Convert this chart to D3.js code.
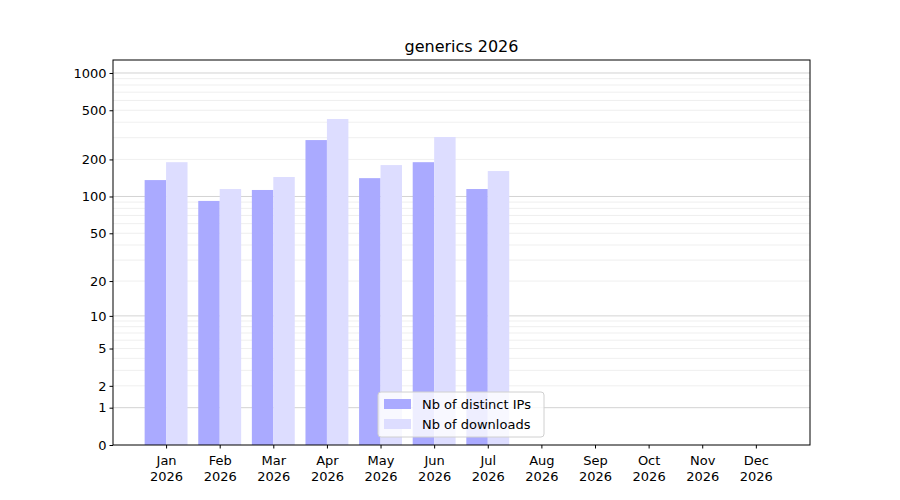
<!DOCTYPE html>
<html><head><meta charset="utf-8">
<script src="https://cdn.jsdelivr.net/npm/d3@7"></script>
<style>body{margin:0;background:#fff}text{font-family:"DejaVu Sans",sans-serif}</style>
</head><body><div class="canvas"></div>
<script>
const months = ['Jan','Feb','Mar','Apr','May','Jun','Jul','Aug','Sep','Oct','Nov','Dec'];
const year = '2026';
const distinctIPs = [136, 92, 113, 287, 141, 190, 115];
const downloads = [190, 115, 144, 425, 180, 304, 161];
const tickValues = [0, 1, 2, 5, 10, 20, 50, 100, 200, 500, 1000];

const dims = { left: 113, right: 810, top: 60, bottom: 445 };

const svg = d3.select('.canvas').append('svg').attr('width', 900).attr('height', 500);

const x = d3.scaleLinear().domain([-0.99, 12.01]).range([dims.left, dims.right]);
const y = d3.scaleSymlog().constant(1).domain([0, 1273]).range([dims.bottom, dims.top]);

// GRID
const minor = [];
[1, 10, 100, 1000].forEach((d) => { for (let k = 2; k <= 9; k++) if (d * k < 1273) minor.push(d * k); });
svg.selectAll('.minor').data(minor).enter().append('line')
  .attr('x1', dims.left).attr('x2', dims.right)
  .attr('y1', (d) => y(d)).attr('y2', (d) => y(d))
  .attr('stroke', '#ebebeb').attr('stroke-width', 0.8);
svg.selectAll('.major').data([1, 10, 100, 1000]).enter().append('line')
  .attr('x1', dims.left).attr('x2', dims.right)
  .attr('y1', (d) => y(d)).attr('y2', (d) => y(d))
  .attr('stroke', '#c8c8c8').attr('stroke-width', 0.8);

// BARS
const bw = 0.4 * (x(1) - x(0));
svg.selectAll('.ips').data(distinctIPs).enter().append('rect')
  .attr('x', (d, i) => x(i) - bw).attr('width', bw)
  .attr('y', (d) => y(d)).attr('height', (d) => y(0) - y(d))
  .attr('fill', '#aaaaff');
svg.selectAll('.dl').data(downloads).enter().append('rect')
  .attr('x', (d, i) => x(i)).attr('width', bw)
  .attr('y', (d) => y(d)).attr('height', (d) => y(0) - y(d))
  .attr('fill', '#ddddff');

// AXES
const xAxis = svg.append('g').attr('transform', `translate(0,${dims.bottom})`)
  .call(d3.axisBottom(x).tickValues(d3.range(12)).tickSize(3.5).tickFormat(''));
xAxis.selectAll('.tick').each(function (d) {
  const t = d3.select(this).append('text').attr('fill', '#000').attr('font-size', 13).attr('text-anchor', 'middle');
  t.append('tspan').attr('x', 0).attr('y', 20).text(months[d]);
  t.append('tspan').attr('x', 0).attr('y', 36).text(year);
});
const yAxis = svg.append('g').attr('transform', `translate(${dims.left},0)`)
  .call(d3.axisLeft(y).tickValues(tickValues).tickSize(3.5).tickFormat(d3.format('d')));
yAxis.selectAll('text').attr('font-size', 13).attr('fill', '#000');
svg.selectAll('.domain').remove();
svg.append('rect').attr('x', dims.left).attr('y', dims.top)
  .attr('width', dims.right - dims.left).attr('height', dims.bottom - dims.top)
  .attr('fill', 'none').attr('stroke', '#000').attr('stroke-width', 1);

// TITLE
svg.append('text').attr('x', (dims.left + dims.right) / 2).attr('y', 52)
  .attr('text-anchor', 'middle').attr('font-size', 16).text('generics ' + year);

// LEGEND
const lg = svg.append('g').attr('transform', 'translate(378,392)');
lg.append('rect').attr('width', 166).attr('height', 45).attr('rx', 3)
  .attr('fill', '#fff').attr('fill-opacity', 0.8).attr('stroke', '#d0d0d0');
[['Nb of distinct IPs', '#aaaaff'], ['Nb of downloads', '#ddddff']].forEach((e, i) => {
  lg.append('rect').attr('x', 6).attr('y', 7 + i * 20).attr('width', 27).attr('height', 10).attr('fill', e[1]);
  lg.append('text').attr('x', 44).attr('y', 17 + i * 20).attr('font-size', 13).text(e[0]);
});
</script></body></html>
